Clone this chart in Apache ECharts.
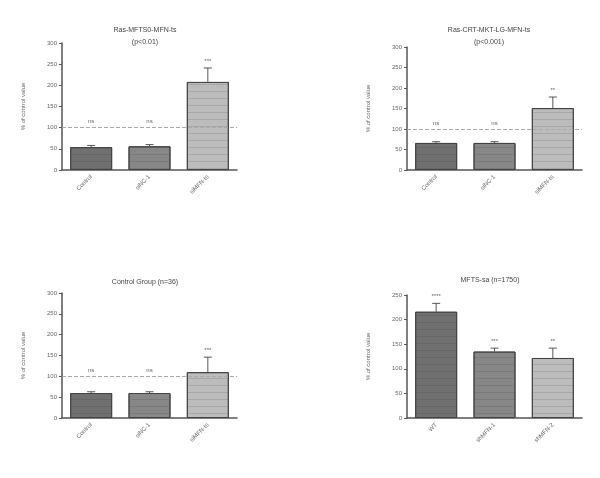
<!DOCTYPE html>
<html>
<head>
<meta charset="utf-8">
<script src="https://cdn.jsdelivr.net/npm/echarts@6/dist/echarts.min.js"></script>
<style>
  html, body { margin: 0; padding: 0; background: #fff; }
  #main { width: 600px; height: 478px; }
</style>
</head>
<body>
<div id="main"></div>
<script>
// panel titles
const titles = [
  'Ras-MFTS0-MFN-ts\n(p<0.01)',
  'Ras-CRT-MKT-LG-MFN-ts\n(p<0.001)',
  'Control Group (n=36)',
  'MFTS-sa (n=1750)'
]
// categories
const cats1 = ['Control', 'siNC-1', 'siMFN-ts']
const cats2 = ['Control', 'siNC-1', 'siMFN-ts']
const cats3 = ['Control', 'siNC-1', 'siMFN-ts']
const cats4 = ['WT', 'shMFN-1', 'shMFN-2']
// bar heights (% of control)
const vals1 = [54, 56, 208]
const vals2 = [66, 66, 151]
const vals3 = [60, 60, 110]
const vals4 = [216, 135, 122]
// error (SEM)
const err1 = [4, 4, 33]
const err2 = [3, 3, 27]
const err3 = [3, 3, 36]
const err4 = [17, 7, 20]
// significance marks
const sig1 = ['ns', 'ns', '***']
const sig2 = ['ns', 'ns', '**']
const sig3 = ['ns', 'ns', '***']
const sig4 = ['****', '***', '**']
// y axis
const yMax = [300, 300, 300, 250]
const refLine = 100

const barColors = ['#707070', '#878787', '#bcbcbc']

const chart = echarts.init(document.getElementById('main'))

const grids = [
  { left: 62, top: 43, width: 175, height: 127 },
  { left: 407, top: 47, width: 175, height: 123 },
  { left: 62, top: 293, width: 175, height: 125 },
  { left: 407, top: 295, width: 175, height: 123 }
]
const titlePos = [
  { left: 140, top: 19 },
  { left: 484, top: 19 },
  { left: 140, top: 271 },
  { left: 485, top: 269 }
]
const allCats = [cats1, cats2, cats3, cats4]
const allVals = [vals1, vals2, vals3, vals4]
const allErr = [err1, err2, err3, err4]
const allSig = [sig1, sig2, sig3, sig4]

const option = {
  backgroundColor: '#fff',
  animation: false,
  textStyle: { fontFamily: 'Liberation Sans, Arial, sans-serif' },
  title: titles.map(function (t, i) {
    return {
      text: t,
      left: titlePos[i].left,
      top: titlePos[i].top,
      textAlign: 'center',
      textStyle: { fontSize: 7, fontWeight: 'normal', color: '#444', lineHeight: 12 }
    }
  }),
  grid: grids,
  xAxis: allCats.map(function (c, i) {
    return {
      type: 'category',
      gridIndex: i,
      data: c,
      axisLine: { lineStyle: { color: '#555', width: 1.5 } },
      axisTick: { show: false },
      axisLabel: { rotate: 45, fontSize: 6, color: '#666', margin: 6 }
    }
  }),
  yAxis: yMax.map(function (m, i) {
    return {
      type: 'value',
      gridIndex: i,
      min: 0,
      max: m,
      interval: 50,
      name: '% of control value',
      nameLocation: 'middle',
      nameGap: 36,
      nameTextStyle: { fontSize: 6, color: '#666' },
      splitLine: { show: false },
      axisLine: { show: true, lineStyle: { color: '#555', width: 1.5 } },
      axisTick: { show: true, length: 3, lineStyle: { color: '#555' } },
      axisLabel: { fontSize: 6, color: '#666', margin: 5 }
    }
  }),
  series: []
}

allVals.forEach(function (vals, i) {
  option.series.push({
    type: 'bar',
    xAxisIndex: i,
    yAxisIndex: i,
    barCategoryGap: '28%',
    data: vals.map(function (v, j) {
      return {
        value: v,
        itemStyle: {
          color: barColors[j],
          borderColor: '#444',
          borderWidth: 1,
          decal: {
            symbol: 'rect',
            symbolSize: 1,
            dashArrayX: [1, 0],
            dashArrayY: [1, 6],
            color: 'rgba(40,40,40,0.14)'
          }
        }
      }
    }),
    markLine: i < 3 ? {
      silent: true,
      symbol: 'none',
      label: { show: false },
      lineStyle: { color: '#aaa', type: 'dashed', width: 1 },
      data: [{ yAxis: refLine }]
    } : undefined
  })
  const err = allErr[i]
  const sig = allSig[i]
  option.series.push({
    type: 'custom',
    xAxisIndex: i,
    yAxisIndex: i,
    data: vals.map(function (v, j) { return [j, v, err[j]] }),
    renderItem: function (params, api) {
      const x = api.value(0)
      const v = api.value(1)
      const e = api.value(2)
      const base = api.coord([x, v])
      const top = api.coord([x, v + e])
      const cap = 4
      const children = [
        { type: 'line', shape: { x1: base[0], y1: base[1], x2: top[0], y2: top[1] }, style: { stroke: '#555', lineWidth: 1 } },
        { type: 'line', shape: { x1: top[0] - cap, y1: top[1], x2: top[0] + cap, y2: top[1] }, style: { stroke: '#555', lineWidth: 1 } }
      ]
      const s = sig[params.dataIndex]
      let ty = top[1] - 4
      if (i < 3 && s === 'ns') {
        ty = api.coord([x, refLine])[1] - 3
      }
      children.push({
        type: 'text',
        style: { text: s, x: top[0], y: ty, align: 'center', verticalAlign: 'bottom', fontSize: 6, fill: '#666' }
      })
      return { type: 'group', children: children }
    },
    z: 5
  })
})

chart.setOption(option)
</script>
</body>
</html>
